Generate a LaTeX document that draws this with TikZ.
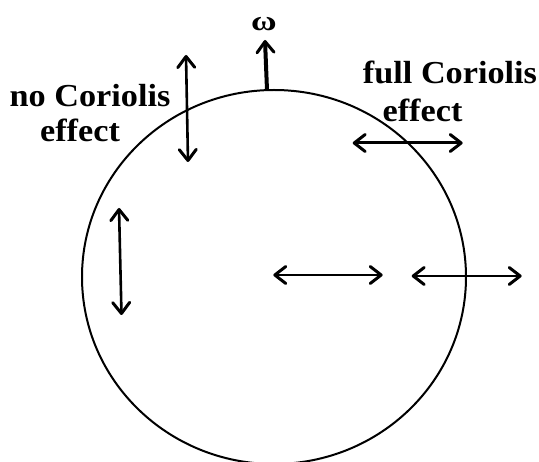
\documentclass[tikz,border=0pt]{standalone}
\usepackage{fontspec}
\usepackage{graphicx}
\setmainfont{Liberation Serif}
\usetikzlibrary{arrows.meta}
\tikzset{
  lbl/.style={anchor=base, inner sep=0pt, font=\fontsize{32}{32}\selectfont\bfseries},
  barb/.tip={Straight Barb[length=11pt,width=17pt,line width=3pt,round]},
  dbl/.style={line width=#1, {barb}-{barb}},
  sgl/.style={line width=#1, -{barb}},
}
\begin{document}
\begin{tikzpicture}[x=1pt,y=-1pt]
\useasboundingbox (0,0) rectangle (539,462);
\draw[line width=2pt] (274,277) ellipse [x radius=192pt, y radius=187pt];
% arrow end points
\coordinate (w1) at (267,90);   \coordinate (w2) at (265,40);
\coordinate (u1) at (186,55);   \coordinate (u2) at (188,162);
\coordinate (l1) at (119,208);  \coordinate (l2) at (121.5,315);
\coordinate (f1) at (352.7,143);\coordinate (f2) at (462.7,143);
\coordinate (c1) at (273.3,275);\coordinate (c2) at (382.7,275);
\coordinate (r1) at (411.7,276);\coordinate (r2) at (521.7,276);
\draw[sgl=4pt] (w1) -- (w2);
\draw[dbl=2.6pt] (u1) -- (u2);
\draw[dbl=2.6pt] (l1) -- (l2);
\draw[dbl=3pt] (f1) -- (f2);
\draw[dbl=2.4pt] (c1) -- (c2);
\draw[dbl=2.6pt] (r1) -- (r2);
% labels
\node[anchor=center, inner sep=0pt, font=\fontsize{28}{28}\selectfont\bfseries] (om) at (264,24) {\scalebox{1.25}[1]{ω}};
\node[lbl] (no) at (90,107) {\scalebox{1.07}[1]{no Coriolis}};
\node[lbl] (ne) at (80,142) {\scalebox{1.07}[1]{effect}};
\node[lbl] (fu) at (450,84) {\scalebox{1.07}[1]{full Coriolis}};
\node[lbl] (fe) at (422.5,122) {\scalebox{1.07}[1]{effect}};
\end{tikzpicture}
\end{document}
